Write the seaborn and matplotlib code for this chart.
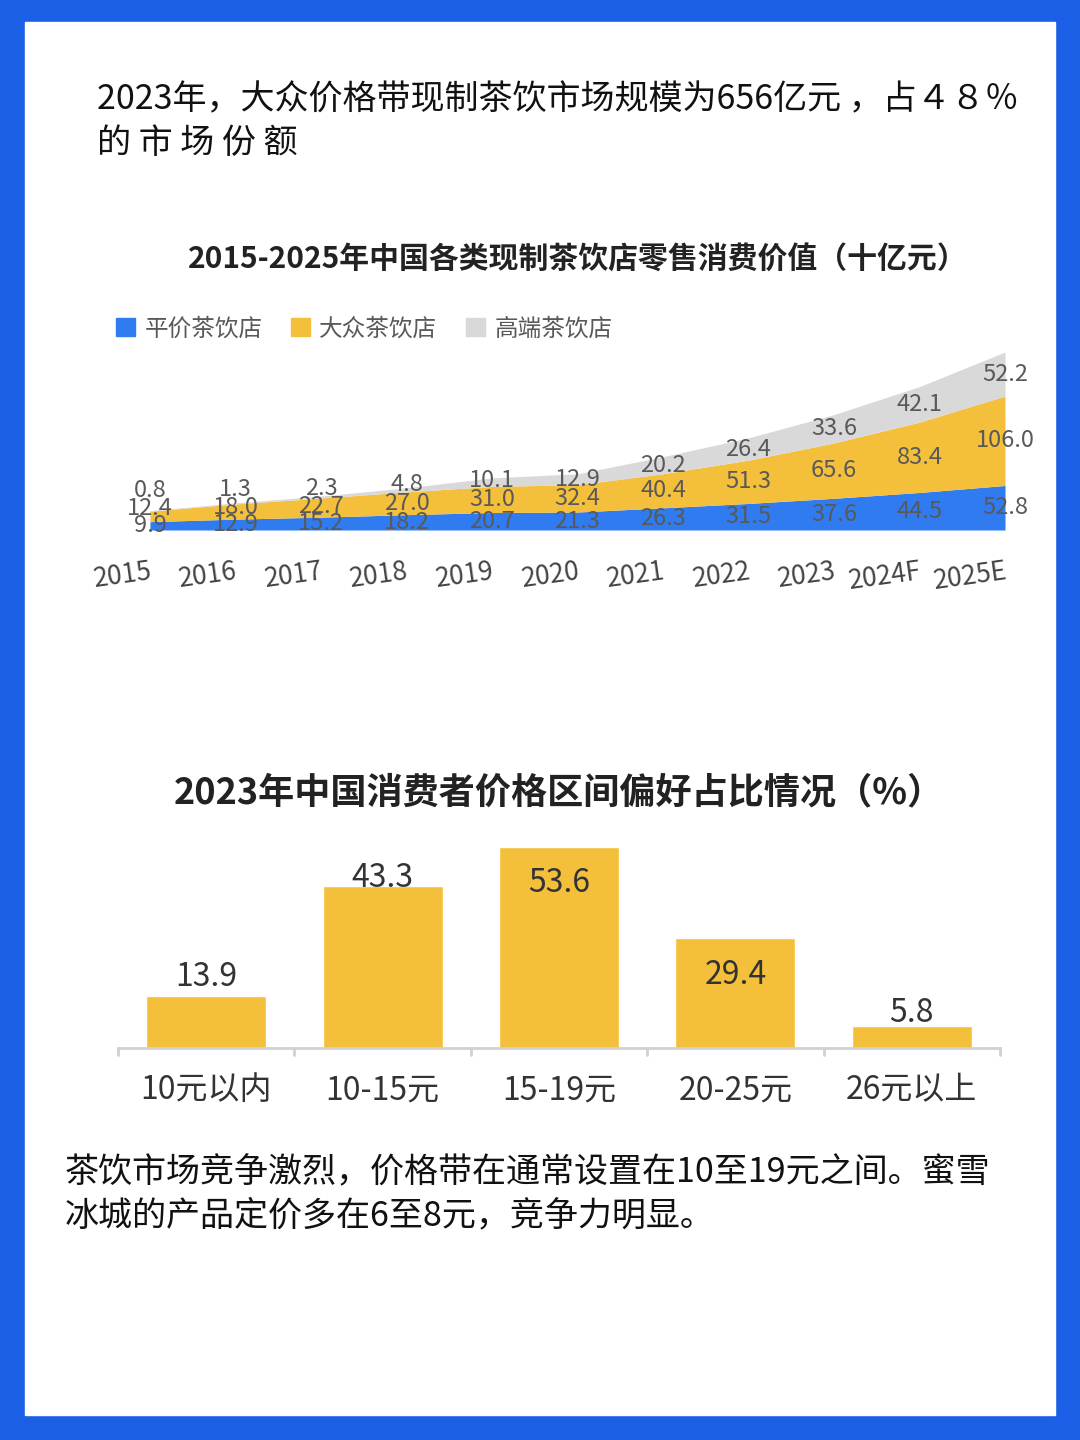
import numpy as np
import pandas as pd
import seaborn as sns
import matplotlib.pyplot as plt
from matplotlib.patches import Patch, Rectangle

sns.set_theme(style="white")
plt.rcParams['font.family'] = ['Noto Sans CJK SC', 'DejaVu Sans']

# 数据
years = ["2015", "2016", "2017", "2018", "2019", "2020", "2021", "2022", "2023", "2024F", "2025E"]
pingjia = [9.9, 12.9, 15.2, 18.2, 20.7, 21.3, 26.3, 31.5, 37.6, 44.5, 52.8]
dazhong = [12.4, 18.0, 22.7, 27.0, 31.0, 32.4, 40.4, 51.3, 65.6, 83.4, 106.0]
gaoduan = [0.8, 1.3, 2.3, 4.8, 10.1, 12.9, 20.2, 26.4, 33.6, 42.1, 52.2]
series_names = ["平价茶饮店", "大众茶饮店", "高端茶饮店"]

price_bands = ["10元以内", "10-15元", "15-19元", "20-25元", "26元以上"]
price_share = [13.9, 43.3, 53.6, 29.4, 5.8]
label_shift = [5, 2, -9.5, -10, 3.5]  # 数值标签相对柱顶的偏移

BLUE = "#2f7bef"
YELLOW = "#f4bf3a"
GREY = "#d9d9d9"
TXT = "#595959"

fig = plt.figure(figsize=(10.8, 14.4), dpi=100)
fig.patch.set_facecolor("#1a5fe6")
fig.patches.append(Rectangle((25/1080, 1-1415/1440), 1030/1080, 1393/1440,
                             transform=fig.transFigure, color="white", zorder=-10))

fig.text(97/1080, 1-100/1440, "2023年，大众价格带现制茶饮市场规模为656亿元 ，占４８％",
         fontsize=24.5, va="center", color="#111111")
fig.text(97/1080, 1-143/1440, "的 市 场 份 额", fontsize=24.5, va="center", color="#111111")

# 面积图
ax1 = fig.add_axes([150/1080, 1-530/1440, 855/1080, 178/1440])
ax1.patch.set_alpha(0)
x = np.arange(len(years))
df = pd.DataFrame({"year": years, "p": pingjia, "d": dazhong, "g": gaoduan})
c1 = df["p"].values
c2 = c1 + df["d"].values
c3 = c2 + df["g"].values
ax1.fill_between(x, 0, c1, color=BLUE, lw=0)
ax1.fill_between(x, c1, c2, color=YELLOW, lw=0)
ax1.fill_between(x, c2, c3, color=GREY, lw=0)
ax1.set_xlim(0, len(years) - 1)
ax1.set_ylim(0, 211)
for i in range(len(years)):
    yb = c1[i] / 2
    yy = max((c1[i] + c2[i]) / 2, yb + 20)
    yg = max((c2[i] + c3[i]) / 2, yy + 22)
    for val, yv in zip([pingjia[i], dazhong[i], gaoduan[i]], [yb, yy, yg]):
        ax1.text(x[i], yv, f"{val:.1f}", ha="center", va="center", fontsize=17,
                 color=TXT, fontweight="medium")
ax1.set_xticks(x)
ax1.set_xticklabels(years, rotation=8, fontsize=19, color="#444444", fontweight="medium",
                    ha="right", rotation_mode="anchor")
ax1.tick_params(axis="x", length=0, pad=20)
ax1.set_yticks([])
sns.despine(ax=ax1, left=True, bottom=True)
ax1.set_title("2015-2025年中国各类现制茶饮店零售消费价值（十亿元）",
              fontsize=21.5, fontweight="heavy", color="#222222", pad=60)
handles = [Patch(color=c) for c in [BLUE, YELLOW, GREY]]
fig.legend(handles, series_names, loc="center left", bbox_to_anchor=(95/1080, 1-329/1440),
           ncol=3, frameon=False, fontsize=17, handlelength=0.8, handleheight=0.8,
           handletextpad=0.4, columnspacing=1.2, labelcolor=TXT)

# 柱状图
ax2 = fig.add_axes([118/1080, 1-1048/1440, 882/1080, 225/1440])
ax2.patch.set_alpha(0)
bar_df = pd.DataFrame({"band": price_bands, "share": price_share})
sns.barplot(data=bar_df, x="band", y="share", color=YELLOW, width=0.68, saturation=1, ax=ax2)
ax2.set_xlim(-0.5, 4.5)
ax2.set_ylim(0, 60)
for i, v in enumerate(price_share):
    ax2.text(i, v + label_shift[i], f"{v:.1f}", ha="center", va="center", fontsize=23,
             color="#333333", fontweight="medium")
ax2.set_xlabel("")
ax2.set_ylabel("")
ax2.set_yticks([])
ax2.tick_params(axis="x", labelsize=23, labelcolor="#333333", length=0, pad=19)
for lab in ax2.get_xticklabels():
    lab.set_fontweight("medium")
for xb in np.arange(-0.5, 4.6, 1):
    ax2.plot([xb, xb], [0, -1.8], color="#d0d0d0", lw=2, clip_on=False)
sns.despine(ax=ax2, left=True)
ax2.spines["bottom"].set_color("#d0d0d0")
ax2.spines["bottom"].set_linewidth(2)
ax2.set_title("2023年中国消费者价格区间偏好占比情况（%）",
              fontsize=26, fontweight="heavy", color="#222222", pad=14)

fig.text(65/1080, 1-1173/1440, "茶饮市场竞争激烈，价格带在通常设置在10至19元之间。蜜雪",
         fontsize=24.5, va="center", color="#111111")
fig.text(65/1080, 1-1216/1440, "冰城的产品定价多在6至8元，竞争力明显。",
         fontsize=24.5, va="center", color="#111111")

fig.savefig("out.png", dpi=100)
